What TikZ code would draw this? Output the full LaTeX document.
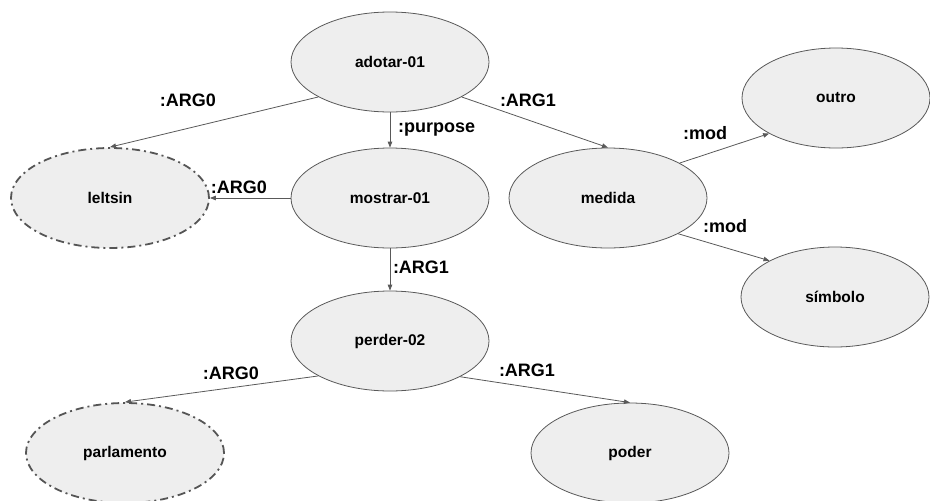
\documentclass[tikz,border=0pt]{standalone}
\usepackage{fontspec}
\setmainfont{Liberation Sans}
\usetikzlibrary{shapes.geometric,arrows.meta}
\definecolor{nodefill}{HTML}{EEEEEE}
\definecolor{linegray}{HTML}{595959}
\definecolor{dashgray}{HTML}{555555}
\tikzset{
  concept/.style={ellipse, draw=linegray, line width=0.8pt, fill=nodefill, minimum width=198pt, minimum height=100pt, inner sep=0pt, font=\fontsize{15.5}{18}\selectfont\bfseries},
  entity/.style={concept, draw=dashgray, line width=1.8pt, dash pattern=on 8pt off 4pt on 2pt off 4pt},
  rel/.style={draw=linegray, line width=0.8pt, -{Triangle[length=6pt,width=4.5pt]}},
  rlabel/.style={font=\fontsize{18}{20}\selectfont\bfseries, inner sep=0pt}
}
\begin{document}
\begin{tikzpicture}[x=1pt,y=-1pt]
\useasboundingbox (0,0) rectangle (930,501);
\node[concept] (adotar) at (390,62) {adotar-01};
\node[entity] (leltsin) at (110,198) {leltsin};
\node[concept] (mostrar) at (390,198) {mostrar-01};
\node[concept] (medida) at (608,198) {medida};
\node[concept, minimum width=188pt] (outro) at (836,98) {outro};
\node[concept, minimum width=188pt] (simbolo) at (835,297) {símbolo};
\node[concept] (perder) at (390,341) {perder-02};
\node[entity] (parlamento) at (125,453) {parlamento};
\node[concept] (poder) at (630,453) {poder};

\draw[rel] (adotar.206.6) -- (leltsin.north);
\draw[rel] (adotar.south) -- (mostrar.north);
\draw[rel] (adotar.334) -- (medida.north);
\draw[rel] (mostrar.west) -- (leltsin.east);
\draw[rel] (medida.26) -- (outro.208.6);
\draw[rel] (medida.333.4) -- (simbolo.151.7);
\draw[rel] (mostrar.south) -- (perder.north);
\draw[rel] (perder.206.6) -- (parlamento.north);
\draw[rel] (perder.333.4) -- (poder.north);

\node[rlabel] (l1) at (188,100) {:ARG0};
\node[rlabel, anchor=west] (l2) at (398,130) {:purpose};
\node[rlabel] (l3) at (528,100) {:ARG1};
\node[rlabel] (l4) at (239,187) {:ARG0};
\node[rlabel] (l5) at (705,133) {:mod};
\node[rlabel] (l6) at (725,226) {:mod};
\node[rlabel] (l7) at (421,267) {:ARG1};
\node[rlabel] (l8) at (231,373) {:ARG0};
\node[rlabel] (l9) at (527,370) {:ARG1};
\end{tikzpicture}
\end{document}
